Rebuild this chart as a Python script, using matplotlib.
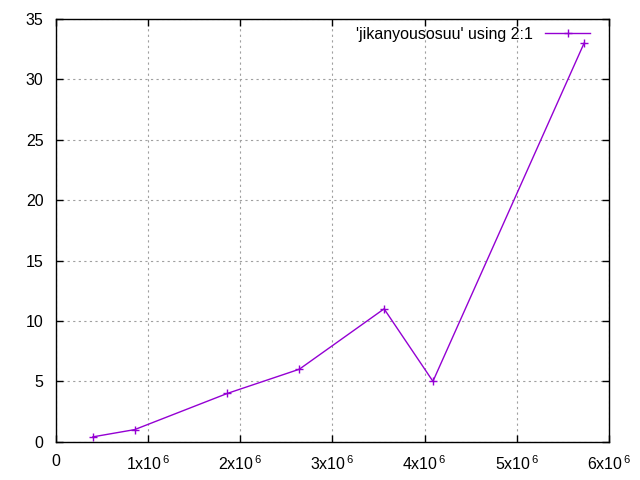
import numpy as np
import matplotlib.pyplot as plt

# data (column 2 on x, column 1 on y)
elements = [0.40e6, 0.853e6, 1.86e6, 2.64e6, 3.56e6, 4.09e6, 5.73e6]
seconds = [0.4, 1, 4, 6, 11, 5, 33]

xticks = [0, 1e6, 2e6, 3e6, 4e6, 5e6, 6e6]
xlabels = ['0'] + [r'%dx10$^{\,\mathregular{6}}$' % i for i in range(1, 7)]
yticks = [0, 5, 10, 15, 20, 25, 30, 35]

plt.rcParams['font.family'] = ['Liberation Sans', 'DejaVu Sans']
plt.rcParams['mathtext.fontset'] = 'custom'
plt.rcParams['mathtext.rm'] = 'Liberation Sans'
plt.rcParams['font.size'] = 11.5

fig = plt.figure(figsize=(6.4, 4.8), dpi=100)
ax = fig.add_axes([0.0875, 0.0798, 0.864, 0.8806])

ax.plot(elements, seconds, color='#9400D3', lw=1, marker='+', ms=6, mew=1,
        label="'jikanyousosuu' using 2:1")

ax.set_xlim(0, 6e6)
ax.set_ylim(0, 35)
ax.set_xticks(xticks)
ax.set_xticklabels(xlabels)
ax.set_yticks(yticks)
ax.grid(True, color='#a0a0a0', linestyle=(0, (2, 3)), lw=0.8)
ax.tick_params(direction='in', length=5, width=1, top=True, right=True, colors='black')
ax.tick_params(axis='y', pad=9)
ax.tick_params(axis='x', pad=9)
for s in ax.spines.values():
    s.set_linewidth(1)

ax.legend(loc='upper right', bbox_to_anchor=(0.966, 0.982), frameon=False,
          markerfirst=False, handlelength=2.8, handletextpad=0.8,
          borderaxespad=0, borderpad=0, fontsize=11.5)

fig.savefig('out.png', dpi=100)
